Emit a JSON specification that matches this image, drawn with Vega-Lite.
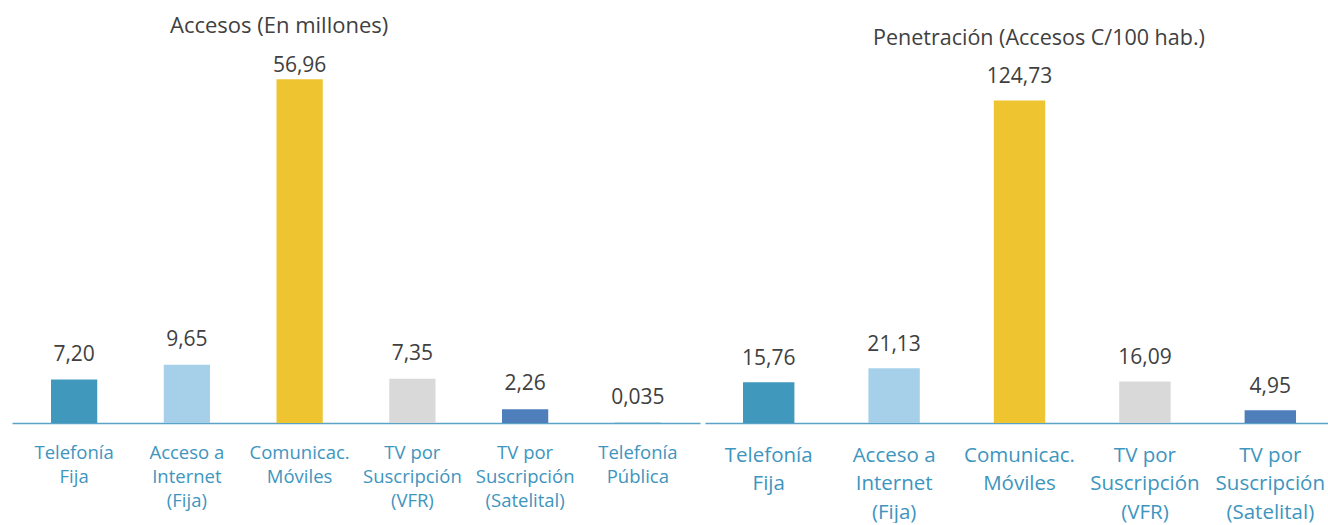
{
  "$schema": "https://vega.github.io/schema/vega-lite/v6.json",
  "padding": {"left": 12, "top": 15, "right": 0, "bottom": 0},
  "background": "white",
  "datasets": {
    "accesos": [
      {"categoria": "Telefonía|Fija", "valor": 7.20, "etiqueta": "7,20"},
      {"categoria": "Acceso a|Internet|(Fija)", "valor": 9.65, "etiqueta": "9,65"},
      {"categoria": "Comunicac.|Móviles", "valor": 56.96, "etiqueta": "56,96"},
      {"categoria": "TV por|Suscripción|(VFR)", "valor": 7.35, "etiqueta": "7,35"},
      {"categoria": "TV por|Suscripción|(Satelital)", "valor": 2.26, "etiqueta": "2,26"},
      {"categoria": "Telefonía|Pública", "valor": 0.035, "etiqueta": "0,035"}
    ],
    "penetracion": [
      {"categoria": "Telefonía|Fija", "valor": 15.76, "etiqueta": "15,76"},
      {"categoria": "Acceso a|Internet|(Fija)", "valor": 21.13, "etiqueta": "21,13"},
      {"categoria": "Comunicac.|Móviles", "valor": 124.73, "etiqueta": "124,73"},
      {"categoria": "TV por|Suscripción|(VFR)", "valor": 16.09, "etiqueta": "16,09"},
      {"categoria": "TV por|Suscripción|(Satelital)", "valor": 4.95, "etiqueta": "4,95"}
    ]
  },
  "config": {
    "view": {"stroke": null},
    "font": "Open Sans"
  },
  "spacing": 5,
  "resolve": {"scale": {"x": "independent", "y": "independent"}},
  "hconcat": [
    {
      "width": 688,
      "height": 362,
      "data": {"name": "accesos"},
      "title": {"text": "Accesos (En millones)", "anchor": "start", "dx": 158, "fontSize": 22, "font": "Open Sans", "fontWeight": "normal", "color": "#404040", "baseline": "alphabetic", "offset": 0, "frame": "group"},
      "encoding": {
        "x": {
          "field": "categoria", "type": "nominal", "sort": null,
          "scale": {"paddingInner": 0.59, "paddingOuter": 0.346},
          "axis": {"title": null, "labelAngle": 0, "ticks": false, "domainColor": "#5BA3C6", "domainWidth": 1.5, "labelColor": "#3E95BE", "labelFontSize": 18.5, "labelFont": "Open Sans", "labelLineHeight": 24, "labelPadding": 20, "labelExpr": "split(datum.label, '|')"}
        },
        "y": {"field": "valor", "type": "quantitative", "scale": {"domain": [0, 60]}, "axis": null}
      },
      "layer": [
        {
          "mark": {"type": "bar"},
          "encoding": {
            "color": {"field": "categoria", "type": "nominal", "legend": null, "scale": {
              "domain": ["Telefonía|Fija", "Acceso a|Internet|(Fija)", "Comunicac.|Móviles", "TV por|Suscripción|(VFR)", "TV por|Suscripción|(Satelital)", "Telefonía|Pública"],
              "range": ["#4099BD", "#A6D0EA", "#EEC530", "#D9D9D9", "#4E7FBB", "#4099BD"]}}
          }
        },
        {
          "transform": [{"filter": "datum.valor < 50"}],
          "mark": {"type": "text", "baseline": "alphabetic", "dy": -19, "fontSize": 21, "font": "Open Sans", "color": "#404040"},
          "encoding": {"text": {"field": "etiqueta"}}
        },
        {
          "transform": [{"filter": "datum.valor >= 50"}],
          "mark": {"type": "text", "baseline": "alphabetic", "dy": -7, "fontSize": 21, "font": "Open Sans", "color": "#404040"},
          "encoding": {"text": {"field": "etiqueta"}}
        }
      ]
    },
    {
      "width": 623,
      "height": 362,
      "data": {"name": "penetracion"},
      "title": {"text": "Penetración (Accesos C/100 hab.)", "anchor": "start", "dx": 168, "fontSize": 21.5, "font": "Open Sans", "fontWeight": "normal", "color": "#404040", "baseline": "alphabetic", "offset": -5, "frame": "group"},
      "encoding": {
        "x": {
          "field": "categoria", "type": "nominal", "sort": null,
          "scale": {"paddingInner": 0.59, "paddingOuter": 0.279, "align": 0.543},
          "axis": {"title": null, "labelAngle": 0, "ticks": false, "domainColor": "#5BA3C6", "domainWidth": 1.5, "labelColor": "#3E95BE", "labelFontSize": 20.5, "labelFont": "Open Sans", "labelLineHeight": 28.5, "labelPadding": 22, "labelExpr": "split(datum.label, '|')"}
        },
        "y": {"field": "valor", "type": "quantitative", "scale": {"domain": [0, 140]}, "axis": null}
      },
      "layer": [
        {
          "mark": {"type": "bar"},
          "encoding": {
            "color": {"field": "categoria", "type": "nominal", "legend": null}
          }
        },
        {
          "mark": {"type": "text", "baseline": "alphabetic", "dy": -17, "fontSize": 21, "font": "Open Sans", "color": "#404040"},
          "encoding": {"text": {"field": "etiqueta"}}
        }
      ]
    }
  ]
}
